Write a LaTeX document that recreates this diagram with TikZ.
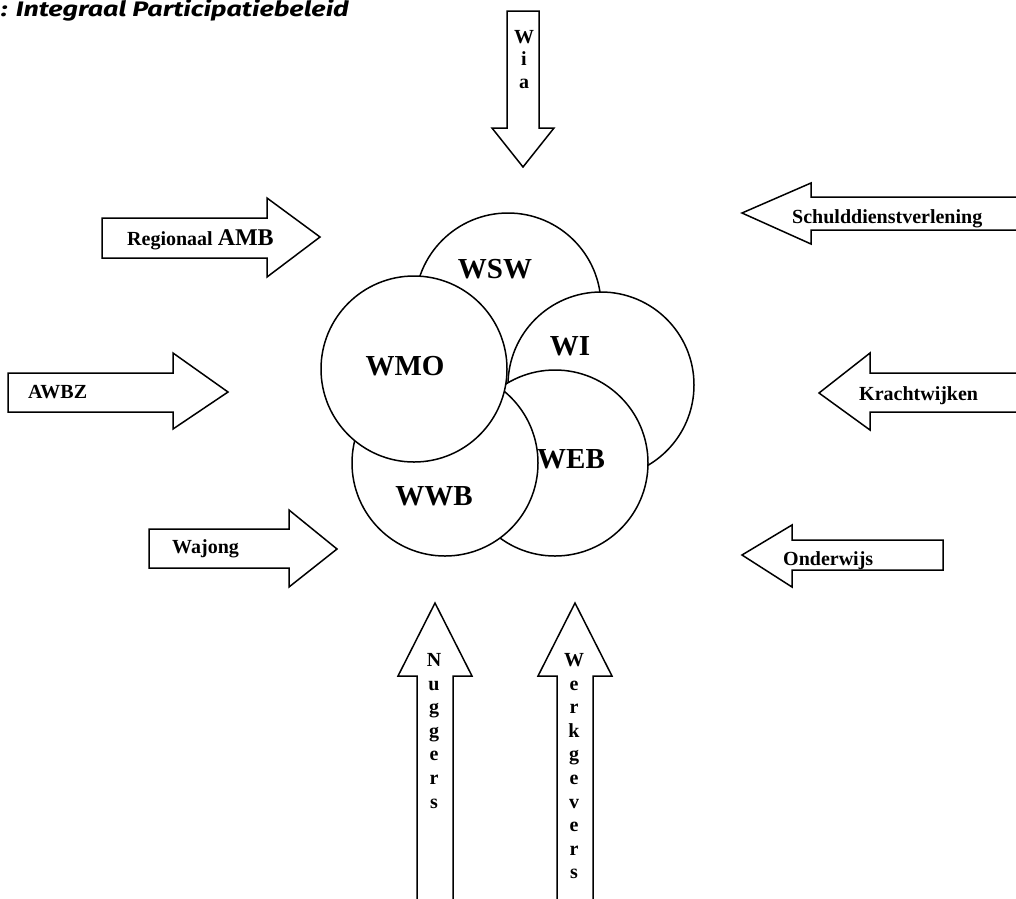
\documentclass[tikz,border=0pt]{standalone}
\usepackage{fontspec}
\setmainfont{Liberation Serif}
\newfontfamily\titlefont{Fira Sans}[FakeStretch=1.28]
\begin{document}
\begin{tikzpicture}[x=1pt,y=-1pt,line join=miter,
  blk/.style={draw=black,line width=1.5pt,fill=white},
  ring/.style={circle,draw=black,line width=1.5pt,fill=white,minimum size=186pt,inner sep=0pt},
  lbl/.style={font=\fontsize{20}{24}\selectfont\bfseries,inner sep=0pt,anchor=base west},
  big/.style={font=\fontsize{29}{34}\selectfont\bfseries,inner sep=0pt,anchor=base},
  vl/.style={font=\fontsize{20}{23}\selectfont\bfseries,inner sep=0pt,anchor=base}]
\useasboundingbox (0,0) rectangle (1016,898);
\clip (0,0) rectangle (1016,898);

% title
\node[anchor=base west,inner sep=0pt,font=\titlefont\fontsize{21}{24}\selectfont\bfseries\itshape] (title) at (1,16) {: Integraal Participatiebeleid};

% block arrows
\draw[blk] (507,11) -- (539,11) -- (539,128) -- (554,128) -- (523,167) -- (492,128) -- (507,128) -- cycle;
\draw[blk] (102,218) -- (267,218) -- (267,198) -- (320,237) -- (267,277) -- (267,258) -- (102,258) -- cycle;
\draw[blk] (1030,197) -- (811,197) -- (811,183) -- (742,213) -- (811,244) -- (811,230) -- (1030,230) -- cycle;
\draw[blk] (8,373) -- (173,373) -- (173,353) -- (228,392) -- (173,429) -- (173,412) -- (8,412) -- cycle;
\draw[blk] (1030,373) -- (870,373) -- (870,353) -- (819,393) -- (870,430) -- (870,412) -- (1030,412) -- cycle;
\draw[blk] (149,529) -- (289,529) -- (289,510) -- (337,549) -- (289,587) -- (289,568) -- (149,568) -- cycle;
\draw[blk] (943,540) -- (792,540) -- (792,525) -- (742,555) -- (792,587) -- (792,570) -- (943,570) -- cycle;
\draw[blk] (417,910) -- (417,676) -- (398,676) -- (435,603) -- (472,676) -- (453,676) -- (453,910) -- cycle;
\draw[blk] (557,910) -- (557,676) -- (538,676) -- (575,603) -- (612,676) -- (593,676) -- (593,910) -- cycle;

% arrow labels
\node[lbl] (amb) at (127,245) {Regionaal {\fontsize{24}{28}\selectfont AMB}};
\node[lbl] (schuld) at (792,223) {Schulddienstverlening};
\node[lbl] (awbz) at (28,398) {AWBZ};
\node[lbl] (kracht) at (859,400) {Krachtwijken};
\node[lbl] (wajong) at (172,553) {Wajong};
\node[lbl] (onderwijs) at (783,565) {Onderwijs};

% vertical labels
\foreach \c/\y [count=\i] in {W/43,i/65.5,a/88}
  \node[vl] (wia-\i) at (524,\y) {\c};
\foreach \c [count=\i] in {N,u,g,g,e,r,s}
  \node[vl] (nug-\i) at (434,666.5+23.6*\i-23.6) {\c};
\foreach \c [count=\i] in {W,e,r,k,g,e,v,e,r,s}
  \node[vl] (werk-\i) at (574,666.5+23.6*\i-23.6) {\c};

% circles
\node[ring] (wsw) at (508,306) {};
\node[ring] (wi) at (601,385) {};
\node[ring] (web) at (555,463) {};
\node[ring] (wwb) at (445,463) {};
\node[ring] (wmo) at (414,369) {};

\node[big] (wswl) at (495,278) {WSW};
\node[big] (wil) at (570,355) {WI};
\node[big] (webl) at (571,468) {WEB};
\node[big] (wwbl) at (434,505) {WWB};
\node[big] (wmol) at (405,375) {WMO};
\end{tikzpicture}
\end{document}
